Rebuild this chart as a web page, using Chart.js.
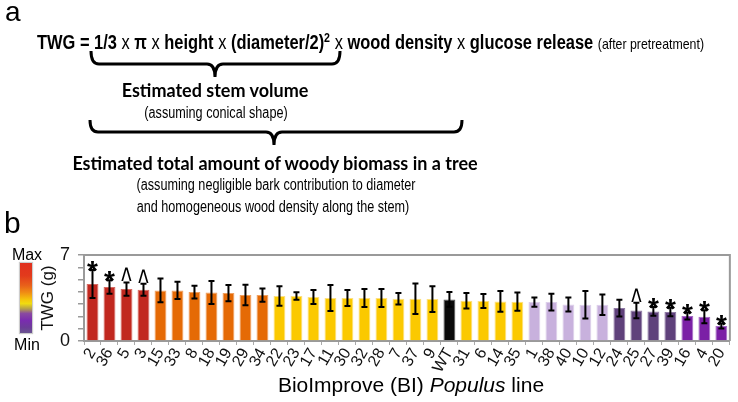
<!DOCTYPE html>
<html><head><meta charset="utf-8">
<script src="https://cdn.jsdelivr.net/npm/chart.js@4.4.1/dist/chart.umd.min.js"></script>
<style>
html,body{margin:0;padding:0;background:#fff;width:738px;height:402px;overflow:hidden;}
#wrap{position:relative;width:738px;height:402px;}
canvas#c{position:absolute;left:0;top:0;}
.t{position:absolute;white-space:nowrap;color:#000;line-height:1;}
.c{transform:translateX(-50%);}
.cn{transform:translateX(-50%) scaleX(0.79);}
.h{font-family:"Liberation Sans",Arial,sans-serif;}
.n{font-family:"Liberation Sans",Arial,sans-serif;}
.b{font-family:"Lato","Open Sans",sans-serif;font-weight:bold;}
</style></head>
<body><div id="wrap">
<canvas id="c" width="738" height="402"></canvas>
<div class="t h" style="left:5px;top:-2px;font-size:28px;">a</div>
<div class="t n" style="left:37px;top:31px;font-size:20px;font-weight:bold;transform-origin:0 0;transform:scaleX(0.822);" id="formula">TWG = 1/3 <span style="font-weight:normal">x</span> π <span style="font-weight:normal">x</span> height <span style="font-weight:normal">x</span> (diameter/2)<sup style="font-size:13px;vertical-align:7px;">2</sup> <span style="font-weight:normal">x</span> wood density <span style="font-weight:normal">x</span> glucose release <span style="font-weight:normal;font-size:15px;">(after pretreatment)</span></div>
<svg style="position:absolute;left:0;top:0;" width="738" height="402">
<path d="M91 51 Q91 64 99 64 L207 64 Q215 64 215 77 Q215 64 223 64 L332 64 Q340 64 340 51" fill="none" stroke="#000" stroke-width="3"/>
<path d="M90 120 Q90 132 98 132 L266 132 Q274 132 274 145 Q274 132 282 132 L454 132 Q462 132 462 120" fill="none" stroke="#000" stroke-width="3"/>
</svg>
<div class="t b c" style="left:215px;top:81px;font-size:18px;">Estimated stem volume</div>
<div class="t n cn" style="left:216px;top:105px;font-size:16px;">(assuming conical shape)</div>
<div class="t b c" style="left:275px;top:154px;font-size:18px;">Estimated total amount of woody biomass in a tree</div>
<div class="t n cn" style="left:276px;top:177px;font-size:16px;">(assuming negligible bark contribution to diameter</div>
<div class="t n cn" style="left:273px;top:199px;font-size:16px;">and homogeneous wood density along the stem)</div>
<div class="t h" style="left:4px;top:208px;font-size:30px;">b</div>
<div class="t h c" style="left:27px;top:247px;font-size:16px;">Max</div>
<div style="position:absolute;left:20px;top:263px;width:12px;height:70px;box-shadow:0 0 1px 1px #ccc;background:linear-gradient(to bottom,#e0301f 0%,#e23a1c 18%,#e8601a 32%,#f08c14 42%,#f5c40c 52%,#f0dc10 58%,#b09a50 66%,#8a4aa0 72%,#7a2cb0 82%,#6c3c98 92%,#6a5590 100%);"></div>
<div class="t h c" style="left:27px;top:337px;font-size:16px;">Min</div>
<div class="t h c" style="left:411px;top:374px;font-size:21px;">BioImprove (BI) <i>Populus</i> line</div>
</div>
<script>
const categories = ['2','36','5','3','15','33','8','18','19','29','34','22','23','17','11','30','32','28','7','37','9','WT','31','6','14','35','1','38','40','10','12','24','25','27','39','16','4','20'];
const twg = [4.63,4.39,4.23,4.17,4.12,4.12,3.98,3.95,3.90,3.74,3.74,3.66,3.66,3.58,3.50,3.50,3.50,3.50,3.44,3.44,3.41,3.38,3.28,3.25,3.22,3.20,3.17,3.17,2.98,2.95,2.95,2.68,2.49,2.41,2.36,2.03,1.98,1.22];
const twgErr = [1.14,0.55,0.54,0.48,0.96,0.70,0.52,0.94,0.66,0.84,0.54,0.80,0.30,0.57,1.05,0.65,0.73,0.73,0.47,1.25,1.05,0.60,0.63,0.57,0.84,0.74,0.38,0.68,0.57,1.12,0.84,0.68,0.63,0.35,0.35,0.28,0.53,0.20];
const marks = ['*','*','^','^','','','','','','','','','','','','','','','','','','','','','','','','','','','','','^','*','*','*','*','*'];
const groups = ['red','red','red','red','orange','orange','orange','orange','orange','orange','orange','yellow','yellow','yellow','yellow','yellow','yellow','yellow','yellow','yellow','yellow','wt','yellow','yellow','yellow','yellow','lav','lav','lav','lav','lav','dpur','dpur','dpur','dpur','pur','pur','pur'];
const yTicks = [0,7];

const palette = {red:'#c1281f',orange:'#e56a05',yellow:'#fbc900',wt:'#0a0a0a',lav:'#c8b1dd',dpur:'#5f417b',pur:'#7b20a6'};
const edge = {red:'#d66a62',orange:'#f0a060',yellow:'#fde080',wt:'#555',lav:'#ddd0ea',dpur:'#8f7aa4',pur:'#a56cc4'};

const errPlugin = {
  id:'errbars',
  afterDatasetsDraw(chart){
    const ctx = chart.ctx, y = chart.scales.y, meta = chart.getDatasetMeta(0);
    ctx.save();
    ctx.strokeStyle = '#000'; ctx.lineWidth = 2;
    meta.data.forEach((el,i)=>{
      const x = el.x;
      const yt = y.getPixelForValue(twg[i]+twgErr[i]);
      const yb = y.getPixelForValue(twg[i]-twgErr[i]);
      ctx.beginPath();
      ctx.moveTo(x,yt); ctx.lineTo(x,yb);
      ctx.moveTo(x-3,yt); ctx.lineTo(x+3,yt);
      ctx.moveTo(x-3,yb); ctx.lineTo(x+3,yb);
      ctx.stroke();
      const m = marks[i];
      if(m){
        ctx.fillStyle = '#000';
        ctx.textAlign = 'center';
        ctx.textBaseline = 'alphabetic';
        if(m==='*'){
          ctx.font = 'bold 28px "Liberation Sans", Arial, sans-serif';
          ctx.fillText('*', x, yt + 10);
        } else {
          ctx.save();
          ctx.translate(x, yt - 1);
          ctx.scale(1, 1.7);
          ctx.font = '22px "Liberation Sans", Arial, sans-serif';
          ctx.fillText('^', 0, 7);
          ctx.restore();
        }
      }
    });
    const a = chart.chartArea;
    ctx.strokeStyle = '#9a9a9a'; ctx.lineWidth = 2;
    ctx.beginPath();
    ctx.moveTo(a.left, a.top); ctx.lineTo(a.right, a.top); ctx.lineTo(a.right, a.bottom);
    ctx.stroke();
    ctx.restore();
  }
};

new Chart(document.getElementById('c'), {
  type:'bar',
  data:{
    labels: categories,
    datasets:[{
      data: twg,
      backgroundColor: groups.map(g=>palette[g]),
      borderColor: groups.map(g=>edge[g]),
      borderWidth: 1,
      barPercentage: 0.7,
      categoryPercentage: 1.0
    }]
  },
  options:{
    responsive:false,
    animation:false,
    layout:{padding:{top:255,left:38,right:1,bottom:0}},
    plugins:{legend:{display:false},tooltip:{enabled:false}},
    scales:{
      x:{
        afterFit(s){ s.height = 61; },
        grid:{drawOnChartArea:false, tickLength:4, color:'#aaa', offset:true},
        border:{color:'#9a9a9a', width:2},
        ticks:{autoSkip:false, minRotation:60, maxRotation:60, padding:0, color:'#111',
               font:{family:'"Liberation Sans", Arial, sans-serif', size:16}}
      },
      y:{
        min:0, max:7,
        afterFit(s){ s.width = 46; },
        grid:{drawOnChartArea:false, tickLength:6, color:'#9a9a9a', lineWidth:1.5},
        border:{color:'#9a9a9a', width:2},
        ticks:{stepSize:1, autoSkip:false, padding:8, color:'#111',
               font:{family:'"Liberation Sans", Arial, sans-serif', size:18},
               callback:(v)=> yTicks.includes(v) ? String(v) : ''},
        title:{display:true, text:'TWG (g)', padding:0, color:'#111',
               font:{family:'"Liberation Sans", Arial, sans-serif', size:17}}
      }
    }
  },
  plugins:[errPlugin]
});
</script>
</body></html>
